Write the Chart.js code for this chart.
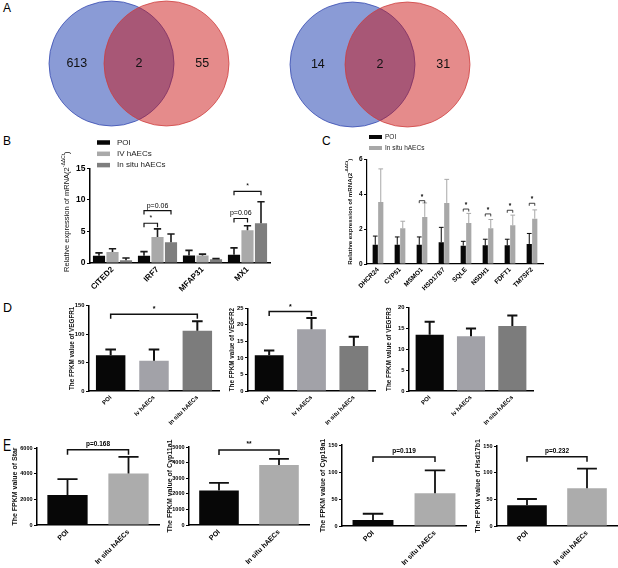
<!DOCTYPE html>
<html><head><meta charset="utf-8">
<script src="https://cdn.jsdelivr.net/npm/chart.js@4.4.1/dist/chart.umd.min.js"></script>
<style>
html,body{margin:0;padding:0;background:#fff;width:618px;height:568px;overflow:hidden;position:relative}
canvas{position:absolute}
.pl{position:absolute;font-family:"Liberation Sans",Arial,sans-serif;color:#000;line-height:1}
</style></head><body>
<div class="pl" style="left:3px;top:2px;font-size:12px">A</div>
<div class="pl" style="left:3px;top:135px;font-size:12px">B</div>
<div class="pl" style="left:322px;top:135px;font-size:12px">C</div>
<div class="pl" style="left:3px;top:302px;font-size:12.5px">D</div>
<div class="pl" style="left:3px;top:437px;font-size:17px;transform:scaleX(0.72);transform-origin:0 0">E</div>
<script>
// ---------------- DATA ----------------
const vennLeftCounts = [613, 2, 55];
const vennRightCounts = [14, 2, 31];

const bSeries = ['POI', 'IV hAECs', 'In situ hAECs'];
const bGenes = ['CITED2', 'IRF7', 'MFAP31', 'MX1'];
const bPOI = [1.15, 1.15, 1.2, 1.3];
const bPOIsd = [0.45, 0.65, 0.8, 1.1];
const bIV = [1.75, 4.1, 1.2, 5.2];
const bIVsd = [0.5, 1.3, 0.2, 0.7];
const bSitu = [0.45, 3.3, 0.6, 6.3];
const bSitusd = [0.35, 1.3, 0.1, 3.4];
const bSig = [
  {a: [0, 1], b: [1, 1], v: 6.3, t: '*'},
  {a: [0, 1], b: [2, 1], v: 8.3, t: 'p=0.06'},
  {a: [0, 3], b: [1, 3], v: 7.05, t: 'p=0.06'},
  {a: [0, 3], b: [2, 3], v: 11.35, t: '*'}
];

const cSeries = ['POI', 'In situ hAECs'];
const cGenes = ['DHCR24', 'CYP51', 'MSMO1', 'HSD17B7', 'SQLE', 'NSDH1', 'FDFT1', 'TM7SF2'];
const cPOI = [1.1, 1.1, 1.1, 1.25, 1.05, 1.07, 1.07, 1.15];
const cPOIsd = [0.5, 0.45, 0.45, 0.85, 0.25, 0.35, 0.35, 0.6];
const cSitu = [3.55, 2.05, 2.7, 3.5, 2.35, 2.05, 2.22, 2.6];
const cSitusd = [1.9, 0.4, 0.8, 1.35, 0.55, 0.5, 0.58, 0.5];
const cSig = [
  {a: [0, 2], b: [1, 2], v: 3.63, t: '*'},
  {a: [0, 4], b: [1, 4], v: 3.15, t: '*'},
  {a: [0, 5], b: [1, 5], v: 2.87, t: '*'},
  {a: [0, 6], b: [1, 6], v: 3.08, t: '*'},
  {a: [0, 7], b: [1, 7], v: 3.48, t: '*'}
];

const dGroups = ['POI', 'Iv hAECs', 'In situ hAECs'];
const dVegfr1 = [63, 53, 106];
const dVegfr1sd = [10, 20, 16.5];
const dVegfr2 = [10.8, 18.7, 13.6];
const dVegfr2sd = [1.45, 3.35, 2.8];
const dVegfr3 = [13.5, 13.1, 15.55];
const dVegfr3sd = [3.1, 1.85, 2.55];
const dSig1 = [{a: [0, 0], b: [0, 2], v: 135, t: '*'}];
const dSig2 = [{a: [0, 0], b: [0, 1], v: 24, t: '*'}];

const eGroups = ['POI', 'In situ hAECs'];
const eStar = [2340, 4020];
const eStarsd = [1240, 1290];
const eCyp11a1 = [2210, 3850];
const eCyp11a1sd = [490, 385];
const eCyp19a1 = [11, 60.5];
const eCyp19a1sd = [11.7, 42.5];
const eHsd17b1 = [38.8, 70.6];
const eHsd17b1sd = [11.8, 37];
const eSig1 = [{a: [0, 0], b: [0, 1], v: 5870, t: 'p=0.168'}];
const eSig2 = [{a: [0, 0], b: [0, 1], v: 4810, t: '**'}];
const eSig3 = [{a: [0, 0], b: [0, 1], v: 128, t: 'p=0.119'}];
const eSig4 = [{a: [0, 0], b: [0, 1], v: 130, t: 'p=0.232'}];

// ---------------- SETUP ----------------
const FAM = "'Liberation Sans', Arial, Helvetica, sans-serif";
Chart.defaults.font.family = FAM;
Chart.defaults.color = '#000';
Chart.defaults.animation = false;
Chart.defaults.responsive = false;
Chart.defaults.devicePixelRatio = 1;
Chart.defaults.events = [];
Chart.defaults.plugins.legend.display = false;
Chart.defaults.plugins.tooltip.enabled = false;

const BLACK = '#070707';

const annot = {
  id: 'annot',
  afterDatasetsDraw(chart, args, o) {
    if (!o || !o.err) return;
    const ctx = chart.ctx, y = chart.scales.y;
    ctx.save();
    o.err.forEach((sd, di) => {
      if (!sd) return;
      const meta = chart.getDatasetMeta(di);
      const ds = chart.data.datasets[di];
      meta.data.forEach((bar, i) => {
        const base = y.getPixelForValue(ds.data[i]);
        const top = y.getPixelForValue(ds.data[i] + sd[i]);
        const cw = bar.width * o.cap / 2;
        const bg = Array.isArray(ds.backgroundColor) ? ds.backgroundColor[i] : ds.backgroundColor;
        ctx.strokeStyle = o.errColor === 'bar' ? bg : o.errColor;
        ctx.lineWidth = o.errWidth;
        ctx.beginPath();
        ctx.moveTo(bar.x, base); ctx.lineTo(bar.x, top);
        ctx.moveTo(bar.x - cw, top); ctx.lineTo(bar.x + cw, top);
        ctx.stroke();
      });
    });
    (o.sig || []).forEach(s => {
      const x1 = chart.getDatasetMeta(s.a[0]).data[s.a[1]].x;
      const x2 = chart.getDatasetMeta(s.b[0]).data[s.b[1]].x;
      const yy = y.getPixelForValue(s.v);
      ctx.strokeStyle = '#111';
      ctx.lineWidth = o.sigWidth;
      ctx.beginPath();
      ctx.moveTo(x1, yy + o.drop); ctx.lineTo(x1, yy); ctx.lineTo(x2, yy); ctx.lineTo(x2, yy + o.drop);
      ctx.stroke();
      ctx.fillStyle = '#000';
      ctx.font = `${o.sigWeight} ${o.sigSize}px ${FAM}`;
      ctx.textAlign = 'center';
      ctx.textBaseline = 'bottom';
      ctx.fillText(s.t, (x1 + x2) / 2, yy - o.gap);
    });
    ctx.restore();
  }
};

const mlegend = {
  id: 'mlegend',
  afterDraw(chart, args, o) {
    if (!o || o.dx === undefined) return;
    const ctx = chart.ctx, ca = chart.chartArea;
    ctx.save();
    ctx.font = `${o.size}px ${FAM}`;
    ctx.textBaseline = 'middle';
    ctx.textAlign = 'left';
    chart.data.datasets.forEach((ds, i) => {
      const cy = ca.top + o.dy + i * o.rowH;
      ctx.fillStyle = ds.backgroundColor;
      ctx.fillRect(ca.left + o.dx, cy - o.boxH / 2, o.boxW, o.boxH);
      ctx.fillStyle = '#222';
      ctx.fillText(ds.label, ca.left + o.tx, cy);
    });
    ctx.restore();
  }
};

const stitle = {
  id: 'stitle',
  afterDraw(chart, args, o) {
    if (!o || !o.main) return;
    const ctx = chart.ctx, ca = chart.chartArea;
    ctx.save();
    ctx.translate(o.x, (ca.top + ca.bottom) / 2 + (o.dy || 0));
    ctx.rotate(-Math.PI / 2);
    const f1 = `${o.weight} ${o.size}px ${FAM}`, f2 = `${o.weight} ${o.supSize}px ${FAM}`;
    ctx.font = f1;
    const w1 = ctx.measureText(o.main).width, w3 = ctx.measureText(o.tail).width;
    ctx.font = f2;
    const w2 = ctx.measureText(o.sup).width;
    let x = -(w1 + w2 + w3) / 2;
    ctx.textBaseline = 'middle';
    ctx.textAlign = 'left';
    ctx.fillStyle = '#111';
    ctx.font = f1; ctx.fillText(o.main, x, 0); x += w1;
    ctx.font = f2; ctx.fillText(o.sup, x, -o.size * 0.45); x += w2;
    ctx.font = f1; ctx.fillText(o.tail, x, 0);
    ctx.restore();
  }
};

const vennText = {
  id: 'vennText',
  afterDatasetsDraw(chart, args, o) {
    const ctx = chart.ctx, xs = chart.scales.x, ys = chart.scales.y;
    ctx.save();
    ctx.font = `${o.size}px ${FAM}`;
    ctx.fillStyle = '#111';
    ctx.textAlign = 'center';
    ctx.textBaseline = 'middle';
    o.counts.forEach((n, i) => ctx.fillText(String(n), xs.getPixelForValue(o.at[i]), ys.getPixelForValue(0)));
    ctx.restore();
  }
};

function place(left, top, w, h) {
  const c = document.createElement('canvas');
  c.width = w; c.height = h;
  c.style.left = left + 'px'; c.style.top = top + 'px';
  c.style.width = w + 'px'; c.style.height = h + 'px';
  document.body.appendChild(c);
  return c;
}

// g: plot rect l,t,r,b ; aw axis width ; ah axis height ; pt pad top ; pr pad right
function barChart(g, labels, datasets, o) {
  const left = Math.round(g.l - g.aw), top = Math.round(g.t - g.pt);
  const aw = g.l - left, pt = g.t - top;
  const w = Math.round(aw + (g.r - g.l) + g.pr), h = Math.round(pt + (g.b - g.t) + g.ah);
  const c = place(left, top, w, h);
  return new Chart(c, {
    type: 'bar',
    data: {labels, datasets},
    options: {
      layout: {padding: {top: pt, right: g.pr, left: 0, bottom: 0}, autoPadding: false},
      datasets: {bar: {categoryPercentage: o.catP, barPercentage: o.barP, borderWidth: 0}},
      scales: {
        x: {
          grid: {display: false, drawTicks: false},
          border: {display: true, color: '#000', width: o.axisLW},
          ticks: {autoSkip: false, minRotation: 45, maxRotation: 45, padding: o.xpad, color: '#000',
                  font: {size: o.xfs, weight: 'bold'}},
          afterFit: s => { s.height = g.ah; }
        },
        y: {
          min: 0, max: o.max,
          ticks: {stepSize: o.step, padding: 1.5, color: '#000', font: {size: o.yfs, weight: 'bold'},
                  callback: v => String(v)},
          grid: {drawOnChartArea: false, drawTicks: true, tickLength: 3, color: '#000', lineWidth: 1},
          border: {display: true, color: '#000', width: o.axisLW},
          title: o.ytitle ? {display: true, text: o.ytitle, padding: 0, color: '#111',
                             font: {size: o.tfs, weight: 'bold'}} : {display: false},
          afterFit: s => { s.width = aw; }
        }
      },
      plugins: {
        annot: o.annot,
        mlegend: o.legend || {},
        stitle: o.stitle || {}
      }
    },
    plugins: [annot, mlegend, stitle]
  });
}

function venn(left, top, counts) {
  const c = place(left, top, 200, 127);
  new Chart(c, {
    type: 'bubble',
    data: {datasets: [
      {data: [{x: 0, y: 0}], order: 2, radius: 62.5, backgroundColor: 'rgba(11,47,170,0.48)', borderColor: 'rgba(50,70,175,0.75)', borderWidth: 1, clip: false},
      {data: [{x: 1, y: 0}], order: 1, radius: 62.5, backgroundColor: 'rgba(200,12,12,0.48)', borderColor: 'rgba(205,60,60,0.75)', borderWidth: 1, clip: false}
    ]},
    options: {
      layout: {padding: 0, autoPadding: false},
      scales: {
        x: {type: 'linear', display: false, min: -1.3, max: -1.3 + 200 / 55},
        y: {type: 'linear', display: false, min: -1, max: 1}
      },
      plugins: {vennText: {counts, at: [-0.63, 0.5, 1.65], size: 12.5}}
    },
    plugins: [vennText]
  });
}

// ---------------- PANEL A ----------------
venn(40, 0, vennLeftCounts);
venn(281, 1, vennRightCounts);

// ---------------- PANEL B ----------------
barChart({l: 90, t: 168.3, r: 270, b: 263.3, aw: 35, ah: 35, pt: 35, pr: 10}, bGenes, [
  {label: bSeries[0], data: bPOI, backgroundColor: BLACK},
  {label: bSeries[1], data: bIV, backgroundColor: '#a9a9a9'},
  {label: bSeries[2], data: bSitu, backgroundColor: '#7e7e7e'}
], {
  max: 15, step: 5, yfs: 8.5, xfs: 8, xpad: 2, axisLW: 1.5, catP: 0.9, barP: 0.9,
  annot: {err: [bPOIsd, bIVsd, bSitusd], errColor: '#1a1a1a', errWidth: 1.6, cap: 0.6,
          sig: bSig, sigWidth: 1.2, drop: 4, gap: 1.5, sigSize: 7, sigWeight: 'normal'},
  legend: {dx: 7, dy: -25.8, rowH: 11.3, boxW: 13, boxH: 4.5, tx: 27, size: 8},
  stitle: {x: 12, dy: -4, main: 'Relative expression of mRNA(2', sup: '-ΔΔCt', tail: ')', size: 7.5, supSize: 5, weight: 'normal'}
});

// ---------------- PANEL C ----------------
barChart({l: 367, t: 159.3, r: 543, b: 264, aw: 25, ah: 32, pt: 31, pr: 8}, cGenes, [
  {label: cSeries[0], data: cPOI, backgroundColor: BLACK},
  {label: cSeries[1], data: cSitu, backgroundColor: '#a8a8a8'}
], {
  max: 6, step: 2, yfs: 6.5, xfs: 6.5, xpad: 2, axisLW: 1.2, catP: 0.5, barP: 0.95,
  annot: {err: [cPOIsd, cSitusd], errColor: 'bar', errWidth: 1, cap: 0.9,
          sig: cSig, sigWidth: 0.8, drop: 2.5, gap: 0.5, sigSize: 6.5, sigWeight: 'bold'},
  legend: {dx: 2, dy: -22.3, rowH: 11, boxW: 13, boxH: 4, tx: 18, size: 6.5},
  stitle: {x: 8, dy: 0, main: 'Relative expression of mRNA(2', sup: '-ΔΔCt', tail: ')', size: 6.2, supSize: 4.3, weight: 'bold'}
});

// ---------------- PANEL D ----------------
const dColors = [BLACK, '#a2a2a8', '#7c7c7c'];
const dOpt = (max, step, sd, sig, title) => ({
  max, step, yfs: 5.8, xfs: 6, xpad: 3, axisLW: 1.5, catP: 1, barP: 0.68, ytitle: title, tfs: 6.3,
  annot: {err: [sd], errColor: '#111', errWidth: 2, cap: 0.36, sig, sigWidth: 1.5, drop: 4.5, gap: 1.5, sigSize: 7, sigWeight: 'bold'}
});
barChart({l: 89, t: 305.7, r: 219, b: 391, aw: 21.5, ah: 45, pt: 15, pr: 4}, dGroups,
  [{label: 'VEGFR1', data: dVegfr1, backgroundColor: dColors}],
  dOpt(150, 50, dVegfr1sd, dSig1, 'The FPKM value of VEGFR1'));
barChart({l: 248, t: 308.3, r: 375, b: 391, aw: 20, ah: 45, pt: 15, pr: 4}, dGroups,
  [{label: 'VEGFR2', data: dVegfr2, backgroundColor: dColors}],
  dOpt(25, 5, dVegfr2sd, dSig2, 'The FPKM value of VEGFR2'));
barChart({l: 409, t: 307.5, r: 533, b: 391, aw: 24.5, ah: 45, pt: 15, pr: 4}, dGroups,
  [{label: 'VEGFR3', data: dVegfr3, backgroundColor: dColors}],
  dOpt(20, 5, dVegfr3sd, [], 'The FPKM value of VEGFR3'));

// ---------------- PANEL E ----------------
const eColors = [BLACK, '#acacac'];
const eOpt = (max, step, sd, sig, title) => ({
  max, step, yfs: 5.5, xfs: 7, xpad: 3, axisLW: 1.5, catP: 1, barP: 0.66, ytitle: title, tfs: 7,
  annot: {err: [sd], errColor: '#111', errWidth: 1.8, cap: 0.5, sig, sigWidth: 1.5, drop: 5, gap: 2.5, sigSize: 6.5, sigWeight: 'bold'}
});
barChart({l: 37, t: 448, r: 159, b: 525, aw: 26, ah: 43, pt: 15, pr: 1}, eGroups,
  [{label: 'Star', data: eStar, backgroundColor: eColors}],
  eOpt(6000, 2000, eStarsd, eSig1, 'The FPKM value of Star'));
barChart({l: 189, t: 447, r: 309, b: 525, aw: 22.7, ah: 43, pt: 15, pr: 1}, eGroups,
  [{label: 'Cyp11a1', data: eCyp11a1, backgroundColor: eColors}],
  eOpt(5000, 1000, eCyp11a1sd, eSig2, 'The FPKM value of Cyp11a1'));
barChart({l: 342, t: 445, r: 466, b: 526, aw: 22.7, ah: 42, pt: 15, pr: 1}, eGroups,
  [{label: 'Cyp19a1', data: eCyp19a1, backgroundColor: eColors}],
  eOpt(150, 50, eCyp19a1sd, eSig3, 'The FPKM value of Cyp19a1'));
barChart({l: 497, t: 446, r: 617, b: 526, aw: 22.7, ah: 42, pt: 15, pr: 1}, eGroups,
  [{label: 'Hsd17b1', data: eHsd17b1, backgroundColor: eColors}],
  eOpt(150, 50, eHsd17b1sd, eSig4, 'The FPKM value of Hsd17b1'));
</script>
</body></html>
